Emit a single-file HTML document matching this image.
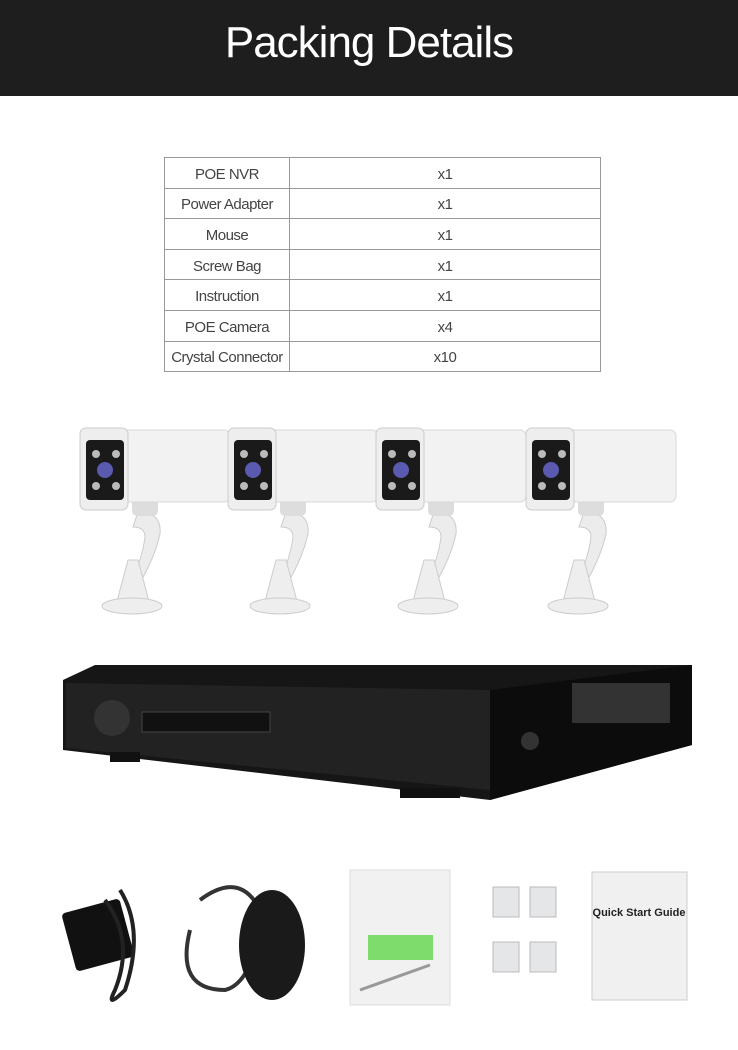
<!DOCTYPE html>
<html><head><meta charset="utf-8"><style>
body{margin:0;width:738px;height:1050px;background:#fff;position:relative;overflow:hidden;font-family:"Liberation Sans",sans-serif}
.hdr{position:absolute;left:0;top:0;width:738px;height:96px;background:#1e1e1e}
.hdr h1{margin:0;position:absolute;top:18px;width:100%;text-align:center;color:#fff;font-size:44px;font-weight:normal;letter-spacing:-1px}
table{position:absolute;left:164px;top:157px;border-collapse:collapse;width:437px}
td{border:1px solid #999;height:30.6px;padding:3px 0 0;box-sizing:border-box;text-align:center;font-size:15px;color:#444;letter-spacing:-0.5px}
td:first-child{width:125px}
</style></head><body>
<div class="hdr"><h1>Packing Details</h1></div>
<table>
<tr><td>POE NVR</td><td>x1</td></tr>
<tr><td>Power Adapter</td><td>x1</td></tr>
<tr><td>Mouse</td><td>x1</td></tr>
<tr><td>Screw Bag</td><td>x1</td></tr>
<tr><td>Instruction</td><td>x1</td></tr>
<tr><td>POE Camera</td><td>x4</td></tr>
<tr><td>Crystal Connector</td><td>x10</td></tr>
</table>
<svg width="738" height="1050" style="position:absolute;left:0;top:0">
<defs>
<g id="cam">
<path d="M138 512 q24 0 22 22 q-5 22 -18 45 v15 h-9 v-15 q10 -25 12 -42 q0 -10 -12 -10z" fill="#ececec" stroke="#ccc"/>
<path d="M128 560 l-12 45 h34 l-12 -45z" fill="#eee" stroke="#ccc"/>
<ellipse cx="132" cy="606" rx="30" ry="8" fill="#eee" stroke="#ccc"/>
<rect x="132" y="498" width="26" height="18" rx="5" fill="#ddd"/>
<rect x="100" y="430" width="130" height="72" rx="6" fill="#f2f2f2" stroke="#d8d8d8"/>
<rect x="80" y="428" width="48" height="82" rx="6" fill="#eee" stroke="#ccc"/>
<rect x="86" y="440" width="38" height="60" rx="4" fill="#1a1a1a"/>
<circle cx="105" cy="470" r="8" fill="#5a5ab0"/>
<circle cx="96" cy="454" r="4" fill="#bbb"/><circle cx="116" cy="454" r="4" fill="#bbb"/>
<circle cx="96" cy="486" r="4" fill="#bbb"/><circle cx="116" cy="486" r="4" fill="#bbb"/>
</g>
</defs>
<use href="#cam"/><use href="#cam" x="148"/><use href="#cam" x="296"/><use href="#cam" x="446"/>
<path d="M63 680 L95 665 L692 665 L692 745 L490 800 L63 750 Z" fill="#161616"/>
<path d="M490 690 L692 665 L692 745 L490 800Z" fill="#0c0c0c"/>
<path d="M66 683 L490 690 L490 790 L66 748Z" fill="#222"/>
<rect x="572" y="683" width="98" height="40" fill="#333"/>
<circle cx="530" cy="741" r="9" fill="#333"/>
<circle cx="112" cy="718" r="18" fill="#333"/>
<rect x="142" y="712" width="128" height="20" fill="#111" stroke="#444"/>
<rect x="110" y="752" width="30" height="10" fill="#111"/><rect x="400" y="788" width="60" height="10" fill="#111"/>
<rect x="68" y="905" width="60" height="60" rx="4" fill="#111" transform="rotate(-15 98 935)"/>
<path d="M105 900 q30 40 10 90 q-10 20 10 0 q20 -60 -5 -100" fill="none" stroke="#222" stroke-width="4"/>
<path d="M190 930 q-15 60 35 60 q20 -5 30 -40 M200 900 q40 -30 60 10" fill="none" stroke="#333" stroke-width="4"/>
<ellipse cx="272" cy="945" rx="33" ry="55" fill="#1a1a1a"/>
<rect x="350" y="870" width="100" height="135" fill="#f1f1f1" stroke="#ddd"/>
<rect x="368" y="935" width="65" height="25" fill="#7ddc6c"/>
<path d="M360 990 l70 -25" stroke="#999" stroke-width="3"/>
<g fill="#e4e6e8" stroke="#bbb"><rect x="493" y="887" width="26" height="30"/><rect x="530" y="887" width="26" height="30"/><rect x="493" y="942" width="26" height="30"/><rect x="530" y="942" width="26" height="30"/></g>
<rect x="592" y="872" width="95" height="128" fill="#f0f0f0" stroke="#ccc"/>
<text x="639" y="916" text-anchor="middle" font-size="11" font-weight="bold" fill="#222" font-family="Liberation Sans">Quick Start Guide</text>
</svg>
</body></html>
